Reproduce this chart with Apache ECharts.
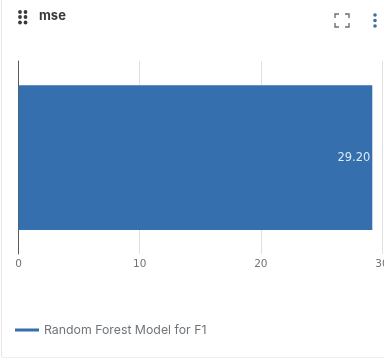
<!DOCTYPE html>
<html>
<head>
<meta charset="utf-8">
<style>html,body{margin:0;padding:0;background:#fff}#c{width:384px;height:360px}</style>
<script src="https://cdn.jsdelivr.net/npm/echarts@6/dist/echarts.min.js"></script>
</head>
<body>
<div id="c"></div>
<script>
const titleText = 'mse';
const categories = ['mse'];
const seriesName = 'Random Forest Model for F1';
const seriesValues = [29.2];
const tickMax = 30;
const tickStep = 10;

const chart = echarts.init(document.getElementById('c'), null, {renderer: 'canvas'});
const dots = [];
[[20,12],[25.5,12],[20,17],[25.5,17],[20,22.5],[25.5,22.5]].forEach(p => dots.push({
  type:'circle', shape:{cx:p[0],cy:p[1],r:1.9}, style:{fill:'#3a3a3c'}, silent:true
}));
[[375,15],[375,20.5],[375,26]].forEach(p => dots.push({
  type:'circle', shape:{cx:p[0],cy:p[1],r:1.8}, style:{fill:'#3f6f9f'}, silent:true
}));
const cornerStyle = {stroke:'#6b7075', lineWidth:1.4, fill:null};
[
  [[335,18],[335,14],[339,14]],
  [[345,14],[349,14],[349,18]],
  [[335,23],[335,27],[339,27]],
  [[345,27],[349,27],[349,23]]
].forEach(pts => dots.push({type:'polyline', shape:{points:pts}, style:cornerStyle, silent:true}));
dots.push({type:'line', shape:{x1:1.5,y1:0,x2:1.5,y2:357}, style:{stroke:'#e6e6e6',lineWidth:1}, silent:true});
dots.push({type:'line', shape:{x1:1.5,y1:357.5,x2:384,y2:357.5}, style:{stroke:'#efefef',lineWidth:1}, silent:true});

chart.setOption({
  animation:false,
  backgroundColor:'#ffffff',
  title:{text:titleText,left:34,top:5,textStyle:{fontFamily:'Inter',fontSize:13,fontWeight:700,color:'#3a3a3c'}},
  grid:{left:18.5,right:2,top:61,height:193,containLabel:false,outerBoundsMode:'none'},
  legend:{
    show:true,left:10,top:319,itemWidth:24,itemHeight:3,itemGap:8,icon:'rect',
    textStyle:{fontFamily:'Inter',fontSize:12.3,color:'#6e7479'},
    data:[seriesName]
  },
  xAxis:{
    type:'value',min:0,max:tickMax,interval:tickStep,
    axisLine:{show:false},axisTick:{show:false},
    axisLabel:{margin:5,fontFamily:'DejaVu Sans',fontSize:10.5,color:'#6e7479',showMaxLabel:true,hideOverlap:false},
    splitLine:{show:true,lineStyle:{color:'#e0e0e0',width:1}}
  },
  yAxis:{
    type:'category',data:categories,
    axisLine:{show:true,onZero:false,lineStyle:{color:'#5a5a5a',width:1}},
    axisTick:{show:false},axisLabel:{show:false},splitLine:{show:false}
  },
  series:[{
    name:seriesName,type:'bar',data:seriesValues,barWidth:'75%',
    itemStyle:{color:'#356fae'},
    label:{show:true,position:'insideRight',distance:2,offset:[0,1],
      formatter:p=>p.value.toFixed(2),
      fontFamily:'DejaVu Sans',fontSize:11.5,color:'#dfe9f4'}
  }],
  graphic:dots
});
</script>
</body>
</html>
